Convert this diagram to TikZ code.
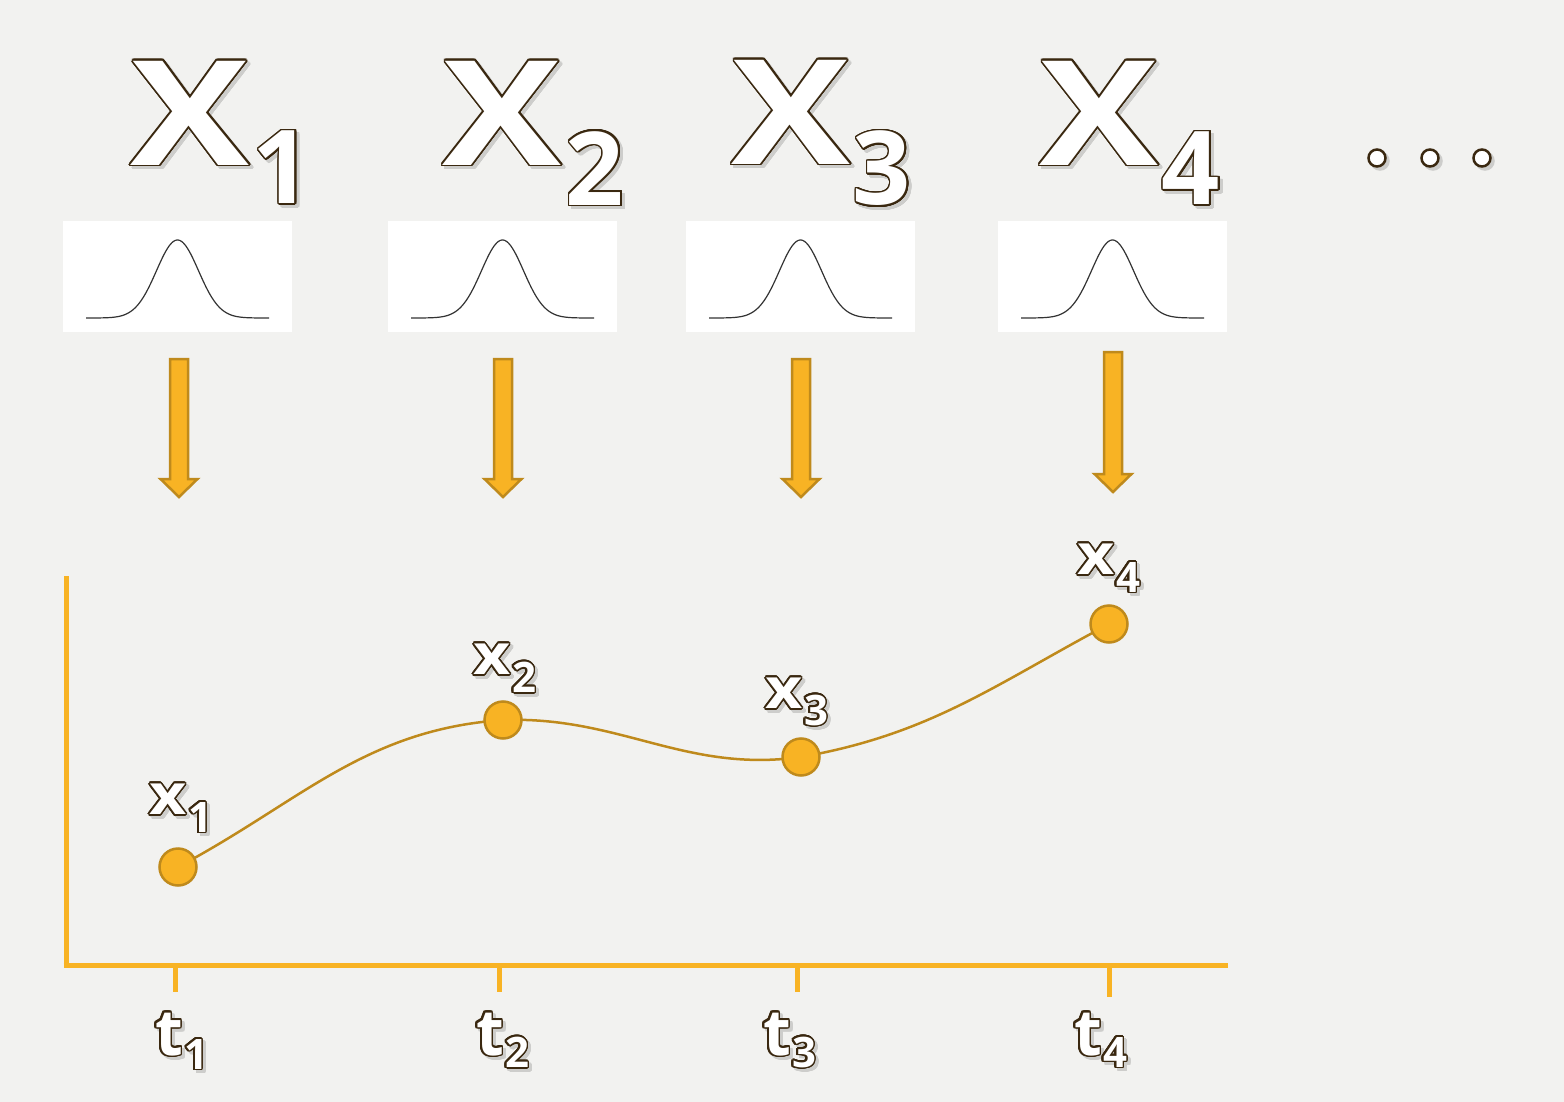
\documentclass[tikz,border=0pt]{standalone}
\usepackage{fontspec}
\setmainfont{Open Sans}
\usepackage{graphicx}
\usepackage[copies]{contour}
\contourlength{1.6pt}
\contournumber{24}
\definecolor{bg}{HTML}{F2F2F0}
\definecolor{orng}{HTML}{F8B324}
\definecolor{orngdark}{HTML}{BF8A1C}
\definecolor{txtbrown}{HTML}{3A2810}
\definecolor{shadowgray}{HTML}{CDCDCB}
\definecolor{gausscol}{HTML}{333333}
\newcommand\fbig{\fontsize{146}{146}\selectfont\bfseries}
\newcommand\fbigsub{\fontsize{102}{102}\selectfont\bfseries}
\newcommand\fsm{\fontsize{56}{56}\selectfont\bfseries}
\newcommand\fsmsub{\fontsize{42}{42}\selectfont\bfseries}
\newcommand\ft{\fontsize{64}{64}\selectfont\bfseries}
\newcommand\shtxt[5]{%
  \node[txtshadow, font=#4] at (#2+3,#3+3) {\contour{shadowgray}{#5}};
  \node[txtmain, font=#4] (#1) at (#2,#3) {\contour{txtbrown}{#5}};
}
\newcommand\gaussbox[2]{% name, center x
  \node[gbox] (#1) at (#2,276.5) {};
  \draw[gauss] plot[domain=-91.5:91.5, samples=120] ({#2+\x},{318-78*exp(-0.5*(\x/21)^2)});
}
\newcommand\myfatarrow[3]{% cx, top, tip
  \draw[downarr] (#1-9,#2) -- (#1+9,#2) -- (#1+9,#3-18) -- (#1+18.5,#3-18) -- (#1,#3)
     -- (#1-18.5,#3-18) -- (#1-9,#3-18) -- cycle;
}
\tikzset{
  txtshadow/.style={inner sep=0pt, text=shadowgray},
  txtmain/.style={inner sep=0pt, text=white},
  gbox/.style={fill=white, draw=none, minimum width=229pt, minimum height=111pt, inner sep=0pt},
  gauss/.style={draw=gausscol, line width=1.2pt},
  downarr/.style={fill=orng, draw=orngdark, line width=2.5pt, line join=miter},
  axisline/.style={draw=orng, line width=5pt},
  datapt/.style={circle, fill=orng, draw=orngdark, line width=2.5pt, minimum size=37pt, inner sep=0pt},
  curveline/.style={draw=orngdark, line width=2.5pt},
  dotshadow/.style={circle, fill=shadowgray, draw=shadowgray, line width=2.5pt, minimum size=17pt, inner sep=0pt},
  dotmain/.style={circle, fill=white, draw=txtbrown, line width=2.5pt, minimum size=17pt, inner sep=0pt},
}
\begin{document}
\begin{tikzpicture}[x=1pt, y=-1pt]
\useasboundingbox[fill=bg] (0,0) rectangle (1564,1102);

% big labels
\shtxt{X1}{190}{114}{\fbig}{\scalebox{1.22}[1]{X}}
\shtxt{X1s}{282}{168}{\fbigsub}{1}
\shtxt{X2}{502}{114}{\fbig}{\scalebox{1.22}[1]{X}}
\shtxt{X2s}{595}{169}{\fbigsub}{2}
\shtxt{X3}{791}{113}{\fbig}{\scalebox{1.22}[1]{X}}
\shtxt{X3s}{882}{169}{\fbigsub}{3}
\shtxt{X4}{1099}{114}{\fbig}{\scalebox{1.22}[1]{X}}
\shtxt{X4s}{1191}{169}{\fbigsub}{4}

% dots
\foreach \i/\xx in {1/1377, 2/1430, 3/1482}{
  \node[dotshadow] at (\xx+3,161) {};
  \node[dotmain] (dot\i) at (\xx,158) {};
}

% gaussian boxes
\gaussbox{b1}{177.5}
\gaussbox{b2}{502.5}
\gaussbox{b3}{800.5}
\gaussbox{b4}{1112.5}

% arrows
\myfatarrow{179}{359}{497}
\myfatarrow{503}{359}{497}
\myfatarrow{801}{359}{497}
\myfatarrow{1113}{352}{492}

% axes
\coordinate (ytop) at (66,576);
\coordinate (origin) at (66,965);
\coordinate (xend) at (1228,965);
\draw[axisline] (ytop) -- (66,967.5);
\draw[axisline] (63.5,965) -- (xend);
\foreach \i/\xx/\yy in {1/175/992, 2/499/992, 3/797/992, 4/1109/997}{
  \coordinate (tk\i) at (\xx,\yy);
  \draw[axisline] (\xx,965) -- (tk\i);
}

% curve
\coordinate (c1) at (178,867);
\coordinate (c2) at (503,720);
\coordinate (c3) at (801,757);
\coordinate (c4) at (1109,624);
\draw[curveline] (c1) to[out=28, in=184] (c2) to[out=2, in=188] (c3) to[out=10, in=208] (c4);
\node[datapt] (p1) at (c1) {};
\node[datapt] (p2) at (c2) {};
\node[datapt] (p3) at (c3) {};
\node[datapt] (p4) at (c4) {};

% small labels
\shtxt{x1}{168}{800}{\fsm}{\scalebox{1.15}[1]{x}}
\shtxt{x1s}{200}{818}{\fsmsub}{1}
\shtxt{x2}{492}{660}{\fsm}{\scalebox{1.15}[1]{x}}
\shtxt{x2s}{524}{678}{\fsmsub}{2}
\shtxt{x3}{784}{694}{\fsm}{\scalebox{1.15}[1]{x}}
\shtxt{x3s}{816}{711}{\fsmsub}{3}
\shtxt{x4}{1096}{560}{\fsm}{\scalebox{1.15}[1]{x}}
\shtxt{x4s}{1128}{578}{\fsmsub}{4}

% t labels
\shtxt{t1}{169}{1035}{\ft}{t}
\shtxt{t1s}{196}{1055}{\fsmsub}{1}
\shtxt{t2}{490}{1035}{\ft}{t}
\shtxt{t2s}{517}{1053}{\fsmsub}{2}
\shtxt{t3}{777}{1035}{\ft}{t}
\shtxt{t3s}{804}{1053}{\fsmsub}{3}
\shtxt{t4}{1088}{1035}{\ft}{t}
\shtxt{t4s}{1115}{1053}{\fsmsub}{4}
\end{tikzpicture}
\end{document}
